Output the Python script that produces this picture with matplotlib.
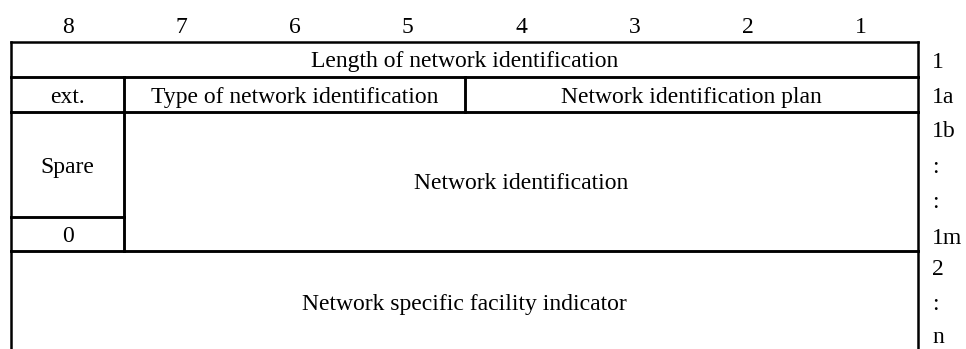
import matplotlib
matplotlib.use("Agg")
import matplotlib.pyplot as plt

# bit numbers across the top, octet labels down the right side
bits = ["8", "7", "6", "5", "4", "3", "2", "1"]
octets = ["1", "1a", "1b", ":", ":", "1m", "2", ":", "n"]
octet_y = [60, 95, 129, 165, 200, 236, 267, 302, 335]

# fields: (text, first bit col, last bit col (exclusive), top, bottom, text y)
fields = [
    ("Length of network identification", 0, 8, 42, 77, 59),
    ("ext.", 0, 1, 77, 112, 95),
    ("Type of network identification", 1, 4, 77, 112, 95),
    ("Network identification plan", 4, 8, 77, 112, 95),
    ("Spare", 0, 1, 112, 217, 165),
    ("0", 0, 1, 217, 251, 234),
    ("Network identification", 1, 8, 112, 251, 181),
    ("Network specific facility indicator", 0, 8, 251, 349, 302),
]

left, right = 11, 918
colw = (right - left) / 8
dy = 2.5  # small nudge so glyphs sit like the reference

fig = plt.figure(figsize=(9.66, 3.49), dpi=100)
ax = fig.add_axes([0, 0, 1, 1])
ax.set_xlim(0, 966)
ax.set_ylim(349, 0)
ax.axis("off")
plt.rcParams["font.family"] = ["Liberation Serif", "DejaVu Serif"]
fs = 17
lw = 1.8

for i, b in enumerate(bits):
    ax.text(left + colw * (i + 0.5), 25 + dy, b, ha="center", va="center", fontsize=fs)

for lab, y in zip(octets, octet_y):
    ax.text(932, y + dy, lab, ha="left", va="center", fontsize=fs)

for text, c0, c1, top, bot, ty in fields:
    x0 = left + colw * c0
    x1 = left + colw * c1
    ax.plot([x0, x1], [top, top], color="black", lw=lw, solid_capstyle="projecting")
    ax.plot([x0, x0], [top, bot], color="black", lw=lw, solid_capstyle="projecting")
    ax.plot([x1, x1], [top, bot], color="black", lw=lw, solid_capstyle="projecting")
    if bot < 349:
        ax.plot([x0, x1], [bot, bot], color="black", lw=lw, solid_capstyle="projecting")
    ax.text((x0 + x1) / 2, ty + dy, text, ha="center", va="center", fontsize=fs)

fig.savefig("out.png", dpi=100)
